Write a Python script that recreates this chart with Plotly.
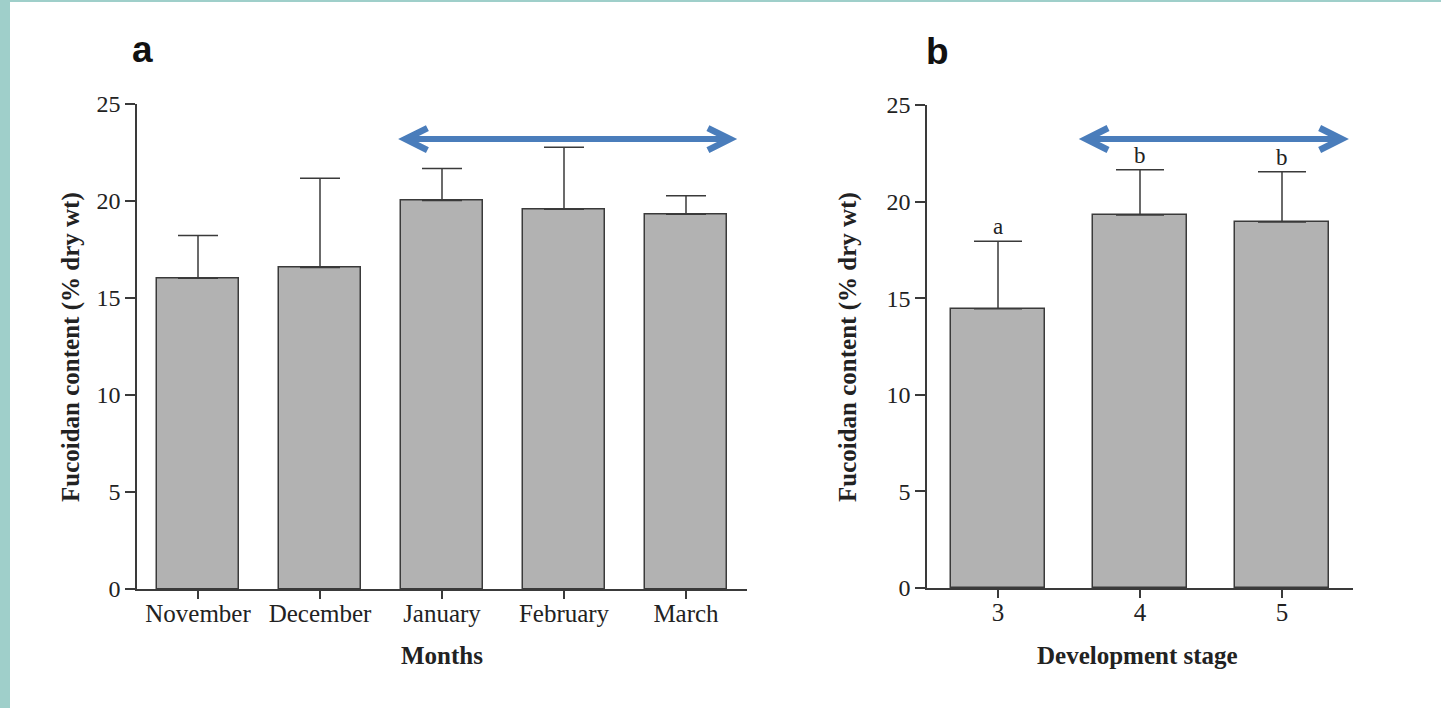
import plotly.graph_objects as go

# Panel a: fucoidan content by month
months = ["November", "December", "January", "February", "March"]
month_mean = [16.0, 16.55, 20.0, 19.55, 19.3]
month_sd = [2.2, 4.6, 1.65, 3.2, 0.95]

# Panel b: fucoidan content by development stage
stages = ["3", "4", "5"]
stage_mean = [14.45, 19.3, 18.95]
stage_sd = [3.5, 2.35, 2.6]
stage_letters = ["a", "b", "b"]

y_ticks = [0, 5, 10, 15, 20, 25]

W, H = 1441, 708
AX = "#3a3a3a"
BAR = "#b2b2b2"
BLUE = "#4a7dbb"
SERIF = "Liberation Serif, Times New Roman, serif"

fig = go.Figure()

fig.add_trace(go.Bar(
    x=list(range(len(months))), y=month_mean, width=0.67,
    marker=dict(color=BAR, line=dict(color=AX, width=1.5)),
    error_y=dict(type="data", symmetric=False, array=month_sd,
                 arrayminus=[0] * len(months), color=AX, thickness=1.5, width=20),
    xaxis="x", yaxis="y", showlegend=False, hoverinfo="skip",
))
fig.add_trace(go.Bar(
    x=list(range(len(stages))), y=stage_mean, width=0.66,
    marker=dict(color=BAR, line=dict(color=AX, width=1.5)),
    error_y=dict(type="data", symmetric=False, array=stage_sd,
                 arrayminus=[0] * len(stages), color=AX, thickness=1.5, width=24),
    xaxis="x2", yaxis="y2", showlegend=False, hoverinfo="skip",
))


def axis_style(ticklen, size, standoff=0):
    return dict(
        showgrid=False, zeroline=False, showline=True, linecolor=AX, linewidth=1.5,
        ticks="outside", ticklen=ticklen, tickwidth=1.5, tickcolor=AX, automargin=False,
        ticklabelstandoff=standoff,
        tickfont=dict(family=SERIF, size=size, color="#222"),
    )


fig.update_layout(
    width=W, height=H,
    margin=dict(l=0, r=0, t=0, b=0, pad=0, autoexpand=False),
    paper_bgcolor="#9fcfca",
    plot_bgcolor="rgba(0,0,0,0)",
    bargap=0,
    xaxis=dict(domain=[137 / W, 747 / W], range=[-0.5, len(months) - 0.5],
               tickvals=list(range(len(months))), ticktext=months,
               anchor="y", **axis_style(8, 25, -7)),
    yaxis=dict(domain=[(H - 589) / H, (H - 103.5) / H], range=[0, 25],
               tickvals=y_ticks, anchor="x", **axis_style(10, 24)),
    xaxis2=dict(domain=[927 / W, 1353 / W], range=[-0.5, len(stages) - 0.5],
                tickvals=list(range(len(stages))), ticktext=stages,
                anchor="y2", **axis_style(8, 25, -7)),
    yaxis2=dict(domain=[(H - 588) / H, (H - 105) / H], range=[0, 25],
                tickvals=y_ticks, anchor="x2", **axis_style(10, 24)),
)

shapes = [
    # white slide panel over the textured backdrop
    dict(type="rect", xref="paper", yref="paper", x0=10 / W, x1=1, y0=0, y1=(H - 2) / H,
         fillcolor="white", line=dict(width=0), layer="below"),
]


def double_arrow(xref, yref, x0, x1, y):
    out = [dict(type="line", xref=xref, yref=yref, x0=x0, x1=x1, y0=y, y1=y,
                line=dict(color=BLUE, width=6))]
    for xa, sgn in ((x0, 1), (x1, -1)):
        out.append(dict(
            type="path", xref=xref, yref=yref, xsizemode="pixel", ysizemode="pixel",
            xanchor=xa, yanchor=y,
            path=f"M {sgn*22},11 L 0,0 L {sgn*22},-11",
            line=dict(color=BLUE, width=6.5), fillcolor="rgba(0,0,0,0)",
        ))
    return out


shapes += double_arrow("x", "y", 1.70, 4.36, 23.17)
shapes += double_arrow("x2", "y2", 0.62, 2.42, 23.24)
fig.update_layout(shapes=shapes)


def label(text, x, y, size, family=SERIF, angle=0, color="#222"):
    return dict(text=text, x=x / W, y=(H - y) / H, xref="paper", yref="paper",
                xanchor="center", yanchor="middle", textangle=angle, showarrow=False,
                font=dict(family=family, size=size, color=color))


ann = [
    label("<b>a</b>", 142, 50, 37, "Liberation Sans, Arial", color="#111"),
    label("<b>b</b>", 937, 52, 37, "Liberation Sans, Arial", color="#111"),
    label("<b>Fucoidan content (% dry wt)</b>", 71, 347, 25, angle=-90),
    label("<b>Fucoidan content (% dry wt)</b>", 848, 347, 25, angle=-90),
    label("<b>Months</b>", 442, 655, 25),
    label("<b>Development stage</b>", 1137, 655, 25),
]
for i, letter in enumerate(stage_letters):
    ann.append(dict(text=letter, x=i, y=stage_mean[i] + stage_sd[i], xref="x2", yref="y2",
                    yanchor="bottom", yshift=0, showarrow=False,
                    font=dict(family=SERIF, size=23, color="#222")))
fig.update_layout(annotations=ann)

fig.write_html("out.html")
